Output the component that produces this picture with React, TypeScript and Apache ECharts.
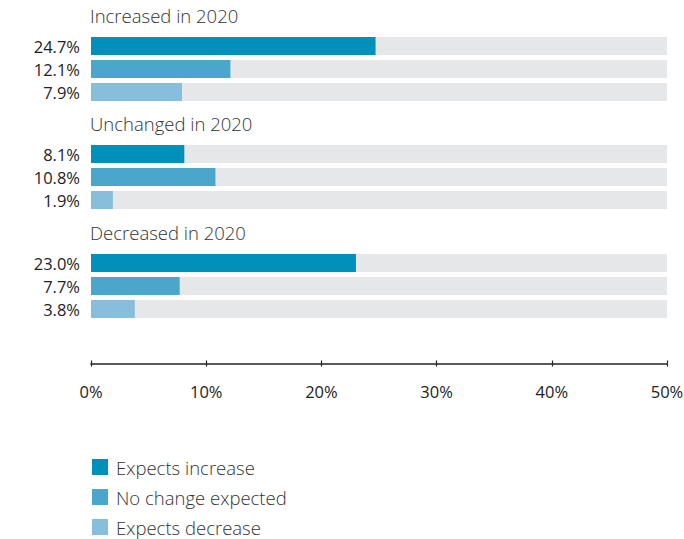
import React, { useEffect, useRef } from "react";
import * as echarts from "echarts";

const groupTitles = ["Increased in 2020", "Unchanged in 2020", "Decreased in 2020"];
const seriesNames = ["Expects increase", "No change expected", "Expects decrease"];
const increasedValues = [24.7, 12.1, 7.9];
const unchangedValues = [8.1, 10.8, 1.9];
const decreasedValues = [23.0, 7.7, 3.8];
const groupValues = [increasedValues, unchangedValues, decreasedValues];
const colors = ["#0190ba", "#4aa6ca", "#86bedb"];
const xMax = 50;
const xInterval = 10;

const FONT = "'Open Sans', sans-serif";

export default function App() {
  const ref = useRef<HTMLDivElement>(null);
  useEffect(() => {
    if (!ref.current) return;
    const chart = echarts.init(ref.current, null, { renderer: "svg" });
    const gridTops = [34.5, 142.5, 251.5];
    const slot = 23;
    const grids = gridTops.map((t) => ({
      left: 91,
      right: 17,
      top: t,
      height: slot * 3,
      containLabel: false,
      outerBoundsMode: "none",
    }));
    const xAxes: any[] = gridTops.map((_, i) => ({
      type: "value",
      gridIndex: i,
      min: 0,
      max: xMax,
      interval: xInterval,
      show: i === 2,
      offset: 43,
      axisLine: { show: true, lineStyle: { color: "#222", width: 1.5 } },
      axisTick: { show: true, length: 3, lineStyle: { color: "#222", width: 1.2 } },
      axisLabel: {
        show: true,
        formatter: "{value}%",
        color: "#222",
        fontSize: 16.5,
        fontFamily: FONT,
        margin: 19,
        showMaxLabel: true,
      },
      splitLine: { show: false },
    }));
    xAxes.push({
      type: "value",
      gridIndex: 2,
      min: 0,
      max: xMax,
      interval: xInterval,
      offset: 43,
      position: "bottom",
      axisLine: { show: false },
      axisTick: { show: true, inside: true, length: 3, lineStyle: { color: "#222", width: 1.2 } },
      axisLabel: { show: false },
      splitLine: { show: false },
    });
    const yAxes = gridTops.map((_, i) => ({
      type: "category",
      gridIndex: i,
      inverse: true,
      data: seriesNames,
      axisLine: { show: false },
      axisTick: { show: false },
      axisLabel: {
        color: "#222",
        fontSize: 16.5,
        fontFamily: FONT,
        margin: 11,
        formatter: (_v: string, idx: number) => groupValues[i][idx].toFixed(1) + "%",
      },
    }));
    const series = groupValues.map((vals, i) => ({
      type: "bar",
      xAxisIndex: i,
      yAxisIndex: i,
      barWidth: 18,
      showBackground: true,
      backgroundStyle: { color: "#e6e7e9" },
      data: vals.map((v, j) => ({ value: v, itemStyle: { color: colors[j] } })),
    }));
    const titles = groupTitles.map((t, i) => ({
      text: t,
      left: 90,
      top: gridTops[i] - 29,
      textStyle: { color: "#333", fontSize: 18.5, fontWeight: 300, fontFamily: FONT },
      padding: 0,
    }));
    const legendY = [459, 489, 519];
    const legend: any[] = [];
    seriesNames.forEach((n, i) => {
      legend.push({
        type: "rect",
        shape: { x: 92, y: legendY[i], width: 16, height: 16 },
        style: { fill: colors[i] },
      });
      legend.push({
        type: "text",
        x: 116,
        y: legendY[i] + 8,
        style: {
          text: n,
          fill: "#333",
          fontSize: 18.5,
          fontWeight: 300,
          fontFamily: FONT,
          verticalAlign: "middle",
        },
      });
    });
    chart.setOption({
      animation: false,
      backgroundColor: "#fff",
      title: titles,
      grid: grids,
      xAxis: xAxes,
      yAxis: yAxes,
      series,
      graphic: legend,
    });
    return () => chart.dispose();
  }, []);
  return (
    <div
      ref={ref}
      style={{ position: "absolute", left: 0, top: 0, width: 684, height: 539 }}
    />
  );
}
